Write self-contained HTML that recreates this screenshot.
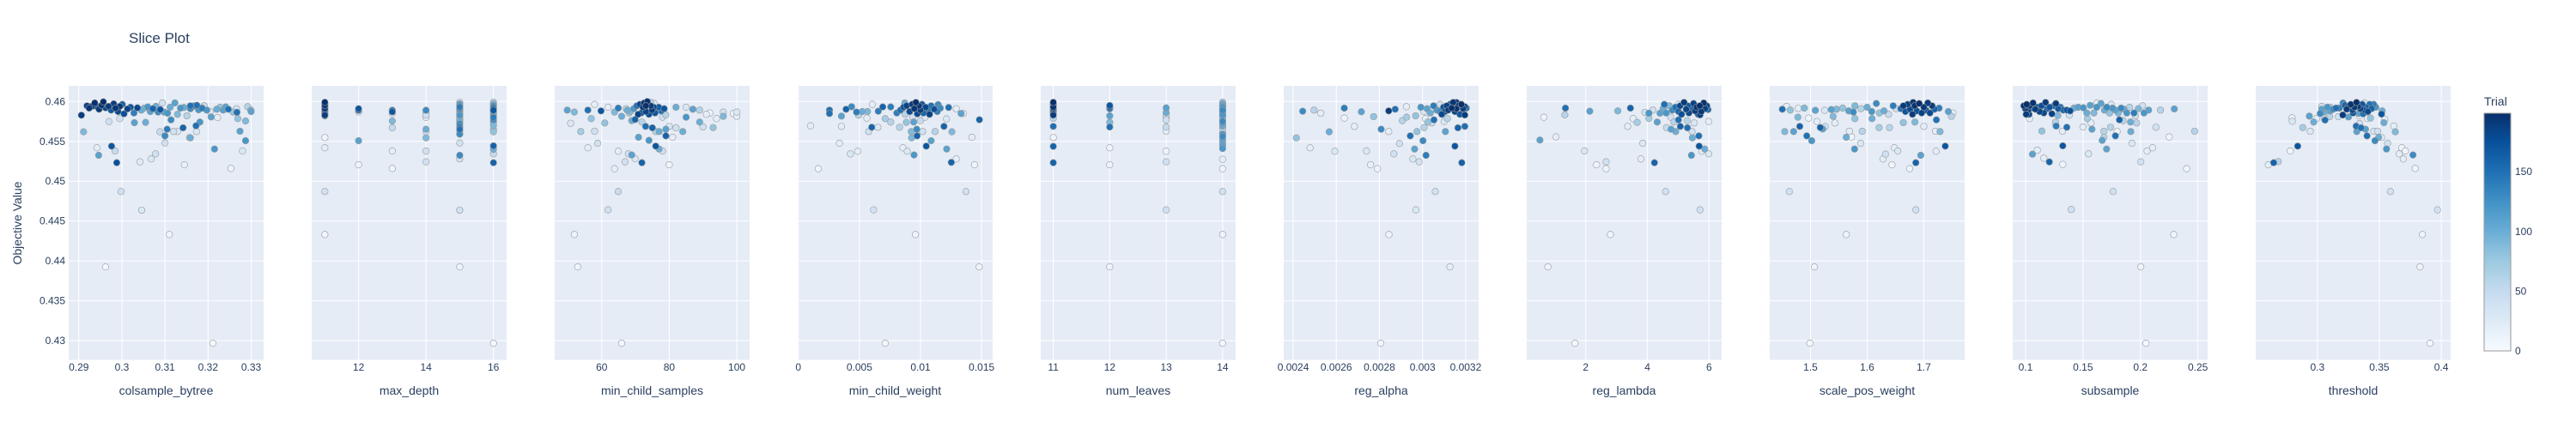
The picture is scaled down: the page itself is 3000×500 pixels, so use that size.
<!DOCTYPE html>
<html><head><meta charset="utf-8"><title>Slice Plot</title>
<style>
html,body{margin:0;padding:0;background:#fff;}
svg{display:block;font-family:"Liberation Sans",Arial,sans-serif;}
</style></head>
<body>
<svg id="chart" width="3000" height="500" viewBox="0 0 3000 500" xmlns="http://www.w3.org/2000/svg">
<defs>
<linearGradient id="blues" x1="0" y1="1" x2="0" y2="0">
<stop offset="0" stop-color="rgb(247,251,255)"/><stop offset="0.125" stop-color="rgb(222,235,247)"/>
<stop offset="0.25" stop-color="rgb(198,219,239)"/><stop offset="0.375" stop-color="rgb(158,202,225)"/>
<stop offset="0.5" stop-color="rgb(107,174,214)"/><stop offset="0.625" stop-color="rgb(66,146,198)"/>
<stop offset="0.75" stop-color="rgb(33,113,181)"/><stop offset="0.875" stop-color="rgb(8,81,156)"/>
<stop offset="1" stop-color="rgb(8,48,107)"/>
</linearGradient>
</defs>
<text x="150" y="50" font-size="17" fill="#2a3f5f">Slice Plot</text>
<text transform="translate(25,260) rotate(-90)" text-anchor="middle" font-size="14" fill="#2a3f5f">Objective Value</text>
<g id="panels"></g>
<g id="colorbar">
<rect x="2893" y="132" width="31" height="277" fill="url(#blues)" stroke="#999" stroke-width="1"/>
<text x="2893" y="123" font-size="14" fill="#2a3f5f">Trial</text>
</g>
</svg>
<script>
const yTicks=[0.43,0.435,0.44,0.445,0.45,0.455,0.46];
const yTickLabels=["0.43","0.435","0.44","0.445","0.45","0.455","0.46"];
const yRange=[0.42758,0.46197];
const trialMax=199;
const cbTicks=[0,50,100,150];
const paramNames=["colsample_bytree","max_depth","min_child_samples","min_child_weight","num_leaves","reg_alpha","reg_lambda","scale_pos_weight","subsample","threshold"];
const xRanges=[[0.28765,0.33289],[10.61,16.39],[46.08,103.8],[-0.00005,0.0159],[10.777,14.23],[0.002356,0.00326],[0.083,6.41],[1.4281,1.772],[0.0888,0.2585],[0.2502,0.4076]];
const xTicks=[[0.29,0.3,0.31,0.32,0.33],[12,14,16],[60,80,100],[0,0.005,0.01,0.015],[11,12,13,14],[0.0024,0.0026,0.0028,0.003,0.0032],[2,4,6],[1.5,1.6,1.7],[0.1,0.15,0.2,0.25],[0.3,0.35,0.4]];
const xTickLabels=[["0.29","0.3","0.31","0.32","0.33"],["12","14","16"],["60","80","100"],["0","0.005","0.01","0.015"],["11","12","13","14"],["0.0024","0.0026","0.0028","0.003","0.0032"],["2","4","6"],["1.5","1.6","1.7"],["0.1","0.15","0.2","0.25"],["0.3","0.35","0.4"]];

const colsample_bytree=[[0.2906,0.45828,190],[0.2911,0.4562,90],[0.2942,0.45419,20],[0.2946,0.45325,110],[0.2976,0.4544,170],[0.2984,0.45379,50],[0.2988,0.45232,175],[0.2998,0.4487,40],[0.3046,0.44637,30],[0.2962,0.43926,5],[0.311,0.44331,10],[0.3211,0.42968,2],[0.3042,0.45243,25],[0.3068,0.45279,30],[0.3078,0.45343,40],[0.3145,0.45207,15],[0.3253,0.4516,10],[0.328,0.45379,30],[0.3215,0.45404,120],[0.3287,0.45508,120],[0.3274,0.45627,110],[0.31,0.45569,130],[0.31,0.4548,40],[0.3142,0.4567,160],[0.3172,0.45695,150],[0.3181,0.45742,120],[0.3173,0.45623,30],[0.3157,0.45548,60],[0.3159,0.45544,100],[0.3088,0.4562,50],[0.3105,0.45652,140],[0.312,0.45623,40],[0.3129,0.45623,30],[0.3114,0.4577,130],[0.3055,0.45738,100],[0.3029,0.45734,110],[0.297,0.45749,40],[0.2995,0.45785,40],[0.3269,0.45785,80],[0.3287,0.45756,90],[0.3222,0.45799,20],[0.3207,0.45806,110],
[0.2919,0.45946,185],[0.2924,0.45917,195],[0.293,0.45939,190],[0.2937,0.45982,198],[0.2942,0.45935,180],[0.2947,0.45903,192],[0.2953,0.45953,195],[0.2957,0.45996,199],[0.2962,0.45921,185],[0.2969,0.45939,190],[0.2975,0.45892,170],[0.2981,0.45971,188],[0.2985,0.45917,195],[0.2991,0.45874,180],[0.2995,0.45939,193],[0.3001,0.45964,160],[0.3005,0.45846,175],[0.3013,0.45907,185],[0.302,0.45928,170],[0.3028,0.45856,140],[0.3036,0.45921,180],[0.3045,0.45892,100],[0.3052,0.45917,90],[0.306,0.45932,120],[0.3066,0.45874,110],[0.3072,0.4591,160],[0.3079,0.45939,100],[0.3084,0.45867,130],[0.3089,0.45899,170],[0.3094,0.45982,40],[0.3098,0.45867,110],[0.3106,0.45853,120],[0.3112,0.45928,100],[0.3123,0.45982,110],[0.3129,0.45839,90],[0.3136,0.45917,120],[0.3144,0.45925,100],[0.3151,0.45821,60],[0.3159,0.4591,130],[0.3167,0.45946,140],[0.3171,0.45939,110],[0.3178,0.45896,120],[0.3186,0.45917,140],[0.3191,0.45946,50],[0.3197,0.45892,120],[0.3205,0.45874,30],[0.322,0.45903,100],[0.3228,0.45928,80],[0.3235,0.45892,110],[0.3241,0.45932,110],[0.3247,0.45903,150],[0.3258,0.45867,80],[0.3267,0.45864,150],[0.3292,0.45935,60],[0.3299,0.45892,90],[0.33,0.45874,110],[0.3266,0.4591,40],[0.3159,0.45946,150],[0.3174,0.45953,150]];

const max_depth=[[11,0.4599,199],[11,0.4597,190],[11,0.4595,195],[11,0.4593,185],[11,0.4591,192],[11,0.4589,180],[11,0.4587,175],[11,0.4585,170],[11,0.4583,188],[11,0.4582,160],[11,0.45548,10],[11,0.45419,20],[11,0.4487,40],[11,0.44331,10],
[12,0.4591,170],[12,0.4589,160],[12,0.4587,30],[12,0.45508,110],[12,0.45207,10],
[13,0.4589,150],[13,0.4587,170],[13,0.4585,20],[13,0.45756,90],[13,0.4567,50],[13,0.45379,20],[13,0.4516,10],
[14,0.4589,130],[14,0.4586,30],[14,0.4583,40],[14,0.458,20],[14,0.45652,100],[14,0.4562,40],[14,0.45544,90],[14,0.45379,40],[14,0.45243,40],
[15,0.4599,40],[15,0.4597,110],[15,0.4595,120],[15,0.4593,140],[15,0.4591,130],[15,0.4589,100],[15,0.4587,90],[15,0.4585,80],[15,0.4583,120],[15,0.4581,70],[15,0.4579,90],[15,0.4577,60],[15,0.4575,100],[15,0.4572,130],[15,0.4568,140],[15,0.4565,150],[15,0.4562,60],[15,0.4559,130],[15,0.4548,40],[15,0.45325,130],[15,0.4528,40],[15,0.44637,40],[15,0.43926,10],
[16,0.4599,60],[16,0.4597,90],[16,0.4595,120],[16,0.4593,140],[16,0.4591,160],[16,0.4589,170],[16,0.4587,110],[16,0.4585,100],[16,0.4583,90],[16,0.458,140],[16,0.4577,130],[16,0.4574,80],[16,0.457,90],[16,0.4565,70],[16,0.4562,80],[16,0.45444,160],[16,0.454,100],[16,0.45343,50],[16,0.45232,160],[16,0.42968,5]];

const min_child_samples=[[49.8,0.45892,110],[51.9,0.45867,90],[50.8,0.45727,30],[53.8,0.45623,70],[55.9,0.45892,150],[56.9,0.45785,80],[57.9,0.45964,20],[57.9,0.45627,40],[55.9,0.45419,20],[58.8,0.45476,40],[59.8,0.45882,170],[60.9,0.45731,80],[61.9,0.45928,20],[63.8,0.45867,90],[64.9,0.45917,140],[65.9,0.45814,100],[64.9,0.45376,20],[63.8,0.45157,20],[66.9,0.45243,40],[67.9,0.45343,40],[68.9,0.45329,110],[69.9,0.45282,30],[71.9,0.45232,160],[68.9,0.4576,100],[69.9,0.45774,160],[70.9,0.45551,110],[71.9,0.45742,60],[73,0.45688,150],[74,0.45512,120],[75,0.4567,160],[76,0.45623,60],[77,0.45623,100],[76,0.4544,170],[77,0.45404,100],[78,0.45379,40],[79,0.45569,160],[79,0.45652,110],[80,0.45688,30],[81,0.45551,20],[82,0.4567,40],[84,0.45623,100],[80,0.45207,10],[64.9,0.4487,50],[61.9,0.4464,40],[51.9,0.44331,10],[52.9,0.43926,10],[65.9,0.42968,5],[85,0.45803,120],[89,0.45742,100],[90,0.45681,40],[93,0.45673,80],[94,0.45785,20],[91,0.45839,20],[92,0.45856,10],[96,0.45867,40],[96,0.45814,90],[99,0.45849,10],[100,0.45867,30],[100,0.45814,20],[89,0.45892,60],[87,0.45903,110],[85,0.45928,30],[82,0.45928,100],[78,0.45803,40],[79,0.45832,60],
[67.6,0.45892,100],[68.5,0.45874,90],[69.5,0.4591,120],[70.4,0.45946,150],[71.3,0.45964,180],[71.7,0.45856,170],[72.2,0.45928,190],[72.6,0.45982,195],[73.1,0.45874,185],[73.5,0.46,198],[74,0.45839,175],[74.5,0.45946,192],[74.9,0.45892,188],[75.4,0.45928,180],[75.8,0.45856,170],[76.3,0.4591,160],[76.9,0.45928,165],[77.6,0.45882,150],[78.5,0.4591,170],[70.8,0.45839,185],[73.1,0.45946,199],[74.5,0.45989,60],[75.6,0.45975,30],[68.1,0.45856,70],[67.2,0.4591,50]];

const min_child_weight=[[0.001,0.45695,20],[0.00163,0.45157,10],[0.00255,0.45892,150],[0.00255,0.45849,150],[0.00336,0.45476,20],[0.00353,0.45817,110],[0.00353,0.45688,20],[0.00391,0.45903,160],[0.00426,0.45343,30],[0.00436,0.45935,130],[0.00476,0.45867,140],[0.00486,0.45376,20],[0.00493,0.45828,60],[0.00523,0.45874,100],[0.00561,0.45792,20],[0.00566,0.45874,90],[0.00576,0.45623,40],[0.00601,0.45677,160],[0.00606,0.45964,20],[0.00616,0.4464,40],[0.00651,0.45677,30],[0.00654,0.45878,140],[0.00691,0.45932,160],[0.00711,0.45785,70],[0.00711,0.42968,5],[0.00756,0.45742,60],[0.00756,0.45932,140],[0.00806,0.45856,140],[0.00829,0.45677,60],[0.00856,0.45419,20],[0.00871,0.45982,100],[0.00891,0.45376,30],[0.00884,0.45738,80],[0.00924,0.45623,90],[0.00927,0.45544,90],[0.00944,0.45742,110],[0.00947,0.45329,120],[0.00959,0.44331,10],[0.00969,0.45652,130],[0.00972,0.45569,160],[0.00999,0.4576,50],[0.01017,0.45623,40],[0.01047,0.4544,170],[0.01087,0.45508,110],[0.01119,0.45623,60],[0.01192,0.45688,160],[0.01212,0.45781,30],[0.01214,0.45404,110],[0.01252,0.45236,160],[0.01257,0.4562,90],[0.01292,0.45279,20],[0.01292,0.4591,20],[0.01332,0.45849,110],[0.0135,0.45849,20],[0.01372,0.4487,40],[0.0142,0.45551,20],[0.01442,0.45207,10],[0.0148,0.43926,10],[0.01482,0.45771,160],[0.0123,0.45925,150],[0.01144,0.45961,130],
[0.00836,0.45892,150],[0.00861,0.45928,170],[0.00886,0.45946,185],[0.00911,0.45874,180],[0.00931,0.45964,190],[0.00949,0.4591,195],[0.00962,0.45989,199],[0.00974,0.45846,180],[0.00987,0.45946,192],[0.00999,0.45892,188],[0.01012,0.45964,170],[0.01024,0.45856,160],[0.01042,0.45928,180],[0.01062,0.45892,150],[0.01074,0.45839,185],[0.01087,0.45946,150],[0.01112,0.45903,175],[0.01137,0.45874,140],[0.01162,0.45917,130],[0.00874,0.45839,60],[0.00936,0.45803,40],[0.01037,0.45803,30]];

const num_leaves=[[11,0.4599,199],[11,0.4597,192],[11,0.4595,185],[11,0.4593,195],[11,0.4591,188],[11,0.4589,180],[11,0.4587,170],[11,0.4585,175],[11,0.4583,190],[11,0.4579,60],[11,0.45688,150],[11,0.45548,10],[11,0.45437,160],[11,0.45232,160],
[12,0.4595,170],[12,0.4593,165],[12,0.4591,160],[12,0.4582,110],[12,0.4574,90],[12,0.4568,150],[12,0.45419,10],[12,0.45207,10],[12,0.43926,10],
[13,0.4592,110],[13,0.4586,100],[13,0.4583,30],[13,0.458,20],[13,0.4577,40],[13,0.4568,50],[13,0.4563,20],[13,0.45376,10],[13,0.45243,40],[13,0.4464,40],
[14,0.4599,80],[14,0.4597,100],[14,0.4595,110],[14,0.4593,120],[14,0.4591,90],[14,0.4589,130],[14,0.4587,100],[14,0.4585,80],[14,0.4583,120],[14,0.4581,90],[14,0.4578,60],[14,0.4575,130],[14,0.4572,110],[14,0.4569,100],[14,0.4566,50],[14,0.4562,40],[14,0.4559,120],[14,0.4556,130],[14,0.4552,110],[14,0.4548,100],[14,0.4545,110],[14,0.4541,120],[14,0.45275,20],[14,0.45157,10],[14,0.4487,40],[14,0.44331,10],[14,0.42968,5]];

const reg_alpha=[[0.002415,0.45544,80],[0.002444,0.45878,130],[0.002497,0.45892,60],[0.002528,0.45853,20],[0.002478,0.45419,20],[0.002567,0.4562,100],[0.002593,0.45376,30],[0.002637,0.45917,140],[0.002637,0.45792,10],[0.002684,0.45688,20],[0.002716,0.45871,110],[0.00274,0.45379,30],[0.002759,0.45207,15],[0.002773,0.4581,80],[0.002791,0.45157,10],[0.002808,0.45652,130],[0.002806,0.42968,5],[0.002843,0.45882,190],[0.002843,0.45623,20],[0.002844,0.44331,10],[0.002867,0.45343,40],[0.002873,0.45903,150],[0.002893,0.45473,40],[0.002906,0.4576,60],[0.002925,0.45935,20],[0.002926,0.45803,70],[0.002943,0.45569,150],[0.002955,0.45279,30],[0.002963,0.45404,110],[0.002968,0.45821,80],[0.002974,0.45623,80],[0.002984,0.45243,40],[0.002992,0.45928,120],[0.003002,0.45508,130],[0.003007,0.45673,60],[0.003016,0.45325,140],[0.003025,0.45742,80],[0.003053,0.4577,150],[0.003059,0.4487,40],[0.002969,0.4464,30],[0.003127,0.43926,20],[0.003106,0.45623,110],[0.00315,0.4544,170],[0.003164,0.4567,160],[0.003182,0.45232,160],[0.003196,0.45688,150],[0.003196,0.45831,190],
[0.003021,0.4591,110],[0.003036,0.45856,100],[0.003051,0.45946,140],[0.003066,0.45892,120],[0.003081,0.45964,40],[0.003081,0.45874,130],[0.003089,0.45839,180],[0.003097,0.45928,170],[0.003104,0.45874,175],[0.003112,0.45946,185],[0.003119,0.45892,190],[0.003127,0.45964,180],[0.003135,0.45917,198],[0.003142,0.45989,195],[0.00315,0.45874,185],[0.003157,0.45989,190],[0.003157,0.4591,196],[0.003165,0.45946,192],[0.003173,0.45839,170],[0.00318,0.45964,199],[0.003188,0.4591,188],[0.003196,0.45935,180],[0.003203,0.45917,150],[0.003005,0.45874,30],[0.003013,0.45785,20],[0.003043,0.45731,40],[0.0031,0.45749,30],[0.003115,0.45785,60]];

const reg_lambda=[[0.511,0.45516,110],[0.64,0.45803,10],[0.77,0.43926,10],[1.03,0.45555,20],[1.32,0.45832,60],[1.34,0.45917,150],[1.65,0.42968,5],[1.96,0.45379,30],[2.13,0.45878,110],[2.35,0.45207,10],[2.66,0.45243,40],[2.66,0.45157,10],[2.8,0.44331,10],[3.04,0.45882,90],[3.36,0.45688,20],[3.45,0.45917,160],[3.54,0.45785,20],[3.67,0.45738,70],[3.79,0.45279,20],[3.85,0.45476,30],[3.92,0.45864,40],[4.05,0.45853,120],[4.05,0.45788,70],[4.18,0.45892,40],[4.23,0.45232,160],[4.32,0.45742,110],[4.41,0.45853,110],[4.55,0.45964,150],[4.59,0.4487,40],[4.62,0.45673,50],[4.77,0.45652,110],[4.86,0.45742,60],[4.92,0.45623,100],[5.01,0.4577,150],[5.07,0.45688,160],[5.3,0.4567,150],[5.45,0.45623,40],[5.46,0.45544,100],[5.43,0.45325,120],[5.67,0.45569,150],[5.68,0.4544,170],[5.71,0.4464,40],[5.86,0.45404,100],[5.77,0.45376,20],[5.99,0.45343,30],[5.99,0.45749,20],[5.52,0.45731,30],[5.29,0.4576,60],
[4.51,0.4591,100],[4.61,0.45856,120],[4.71,0.45946,90],[4.81,0.45892,130],[4.91,0.45928,150],[5.01,0.45874,160],[5.06,0.45946,180],[5.11,0.45839,175],[5.19,0.45989,190],[5.26,0.45903,185],[5.31,0.45946,170],[5.35,0.45856,180],[5.4,0.45917,160],[5.5,0.45975,185],[5.55,0.45882,190],[5.6,0.45928,195],[5.65,0.45839,170],[5.7,0.45946,199],[5.75,0.45874,190],[5.83,0.45982,196],[5.87,0.4591,188],[5.93,0.45946,180],[5.97,0.45899,150],[5.71,0.45832,185],[4.76,0.45803,40],[5.01,0.45964,20]];

const scale_pos_weight=[[1.4503,0.45903,150],[1.4546,0.45623,90],[1.4578,0.45939,20],[1.4627,0.4487,40],[1.4643,0.45892,80],[1.4703,0.45623,110],[1.4778,0.45803,90],[1.4784,0.45914,20],[1.4811,0.45688,160],[1.4892,0.45917,90],[1.4935,0.45569,150],[1.4968,0.45792,10],[1.4989,0.42968,5],[1.5022,0.45508,120],[1.507,0.43926,10],[1.5086,0.45889,110],[1.5114,0.45749,20],[1.5173,0.45673,160],[1.5216,0.45655,110],[1.5249,0.45889,30],[1.5259,0.45684,40],[1.5368,0.45899,110],[1.54,0.45814,90],[1.5432,0.45731,20],[1.5632,0.45551,100],[1.5632,0.44331,10],[1.5686,0.45627,20],[1.5724,0.45555,10],[1.5757,0.45867,130],[1.5778,0.45404,120],[1.5784,0.45785,80],[1.5886,0.45476,30],[1.5913,0.45627,60],[1.6086,0.45785,100],[1.6211,0.45673,70],[1.6281,0.45279,20],[1.6324,0.4534,40],[1.6394,0.45673,60],[1.6438,0.45207,10],[1.6481,0.45419,20],[1.654,0.45379,30],[1.6638,0.45735,80],[1.6751,0.45157,10],[1.6843,0.45742,90],[1.6859,0.45232,160],[1.6859,0.4464,40],[1.6946,0.45325,110],[1.7,0.45688,20],[1.7205,0.45627,20],[1.7216,0.45376,20],[1.7222,0.4577,150],[1.7286,0.45623,90],[1.7378,0.4544,170],[1.7432,0.45874,110],[1.7486,0.45814,60],[1.7513,0.45856,20],
[1.5459,0.45903,90],[1.5568,0.45917,80],[1.5676,0.45882,110],[1.5784,0.45946,90],[1.5892,0.4591,60],[1.6,0.45928,100],[1.6081,0.45874,120],[1.6162,0.45975,130],[1.6216,0.45856,80],[1.6297,0.45882,100],[1.6378,0.45839,50],[1.6459,0.45946,140],[1.6513,0.4591,40],
[1.6594,0.4591,150],[1.6638,0.45946,190],[1.6676,0.45874,170],[1.6713,0.45964,185],[1.6757,0.45903,180],[1.68,0.45839,190],[1.6838,0.45946,196],[1.6876,0.45882,175],[1.6919,0.45975,199],[1.6962,0.45856,185],[1.7,0.45928,192],[1.7038,0.45892,170],[1.707,0.45982,190],[1.7108,0.45856,180],[1.7146,0.45946,188],[1.7189,0.45903,160],[1.727,0.45917,140],[1.6811,0.45989,194]];

const subsample=[[0.1035,0.45785,20],[0.103,0.45839,180],[0.106,0.45339,110],[0.1102,0.45389,20],[0.1142,0.45629,80],[0.1159,0.45289,20],[0.1207,0.45242,160],[0.1261,0.45741,60],[0.1264,0.45699,40],[0.1266,0.45692,140],[0.1281,0.45824,90],[0.1321,0.45627,20],[0.1324,0.45444,170],[0.1324,0.45211,10],[0.1359,0.45677,150],[0.1398,0.44645,40],[0.1381,0.45828,40],[0.15,0.45681,20],[0.1538,0.45785,70],[0.1548,0.45343,30],[0.1578,0.45652,110],[0.157,0.45731,20],[0.1667,0.45512,110],[0.1682,0.45551,60],[0.1682,0.45627,60],[0.1705,0.45404,110],[0.174,0.45677,60],[0.1762,0.4487,40],[0.1782,0.45569,150],[0.1797,0.45623,10],[0.1817,0.4577,160],[0.185,0.4576,60],[0.1914,0.45742,100],[0.1916,0.45623,100],[0.1926,0.45476,30],[0.1956,0.45821,40],[0.1968,0.45731,60],[0.2003,0.45243,40],[0.2003,0.43926,10],[0.2048,0.42968,5],[0.2058,0.45379,20],[0.2071,0.45892,110],[0.2106,0.45419,20],[0.2135,0.45677,40],[0.2175,0.45892,60],[0.225,0.45555,10],[0.229,0.44331,10],[0.2295,0.45907,110],[0.2402,0.45157,10],[0.2472,0.45627,60],
[0.0985,0.45946,195],[0.0998,0.4591,190],[0.101,0.45964,199],[0.1022,0.45892,185],[0.1035,0.45946,192],[0.1047,0.45917,180],[0.1065,0.45982,196],[0.1085,0.45903,188],[0.1105,0.45928,170],[0.1122,0.45874,185],[0.1139,0.45946,175],[0.1159,0.45856,180],[0.1174,0.45989,190],[0.1189,0.4591,160],[0.1209,0.45928,170],[0.1229,0.45846,185],[0.1247,0.45946,160],[0.1264,0.45975,190],[0.1284,0.4591,165],[0.1304,0.45928,150],[0.1329,0.45892,160],[0.1359,0.45892,170],[0.1388,0.45882,175],[0.1005,0.45839,190],
[0.1421,0.45917,100],[0.1458,0.45928,110],[0.1503,0.45921,120],[0.1533,0.45856,100],[0.1563,0.45953,110],[0.1595,0.45856,90],[0.162,0.45928,120],[0.1657,0.45975,110],[0.1687,0.45892,100],[0.1707,0.45928,130],[0.1732,0.45856,80],[0.1745,0.45964,30],[0.1757,0.45917,120],[0.1782,0.45892,110],[0.1807,0.45856,90],[0.1832,0.45917,130],[0.1857,0.45903,100],[0.1881,0.45856,120],[0.1906,0.45928,60],[0.1944,0.45856,140],[0.1981,0.4591,90],[0.2018,0.45946,40],[0.2031,0.45856,120],[0.162,0.45982,20]];

const threshold=[[0.2604,0.45207,20],[0.2647,0.45232,160],[0.2684,0.45246,60],[0.2781,0.45379,10],[0.2795,0.45795,10],[0.2797,0.45752,30],[0.2841,0.4544,170],[0.2882,0.45673,70],[0.2935,0.45817,110],[0.2942,0.45627,30],[0.297,0.45742,100],[0.2993,0.45785,20],[0.3023,0.45849,130],[0.3062,0.45767,150],[0.3055,0.45785,40],[0.3313,0.45691,150],[0.3318,0.45623,110],[0.3341,0.45724,40],[0.3353,0.4567,150],[0.3389,0.45652,110],[0.3401,0.45569,150],[0.3456,0.45627,30],[0.3465,0.45508,130],[0.3486,0.45627,40],[0.3495,0.45551,100],[0.3518,0.45548,20],[0.3537,0.45734,100],[0.3544,0.45774,20],[0.3558,0.45404,120],[0.3567,0.45476,40],[0.359,0.4487,40],[0.3617,0.45691,20],[0.3629,0.4562,90],[0.3661,0.45343,20],[0.3682,0.45419,10],[0.3694,0.45279,20],[0.371,0.45379,10],[0.3772,0.45329,130],[0.379,0.4516,10],[0.3829,0.43926,10],[0.3848,0.44331,10],[0.391,0.42968,5],[0.397,0.4464,40],[0.3403,0.45788,20],[0.3339,0.4582,10],[0.3429,0.45792,80],[0.3336,0.45849,110],[0.3251,0.45806,110],[0.317,0.4581,40],[0.3099,0.4581,60],[0.3523,0.45882,100],[0.3205,0.45831,190],[0.3518,0.45842,170],
[0.3035,0.45903,110],[0.3058,0.45874,100],[0.3081,0.45928,120],[0.3104,0.45882,110],[0.3127,0.45903,130],[0.315,0.45917,150],[0.3177,0.45917,140],[0.3207,0.45982,130],[0.3223,0.45953,160],[0.3237,0.45903,190],[0.3253,0.45939,185],[0.327,0.45964,196],[0.3283,0.45892,180],[0.33,0.45928,192],[0.3316,0.45989,199],[0.3329,0.45939,190],[0.3346,0.4591,185],[0.3362,0.45964,170],[0.3376,0.45892,175],[0.3392,0.45928,160],[0.3408,0.45874,180],[0.3422,0.45964,150],[0.3438,0.4591,160],[0.3454,0.45964,140],[0.3472,0.45928,120],[0.3288,0.45856,170],[0.3369,0.45846,150],[0.3035,0.45939,40],[0.338,0.45982,30],[0.3104,0.45928,60]];

const panelData=[colsample_bytree,max_depth,min_child_samples,min_child_weight,num_leaves,reg_alpha,reg_lambda,scale_pos_weight,subsample,threshold];

const NS="http://www.w3.org/2000/svg";
const PLOT_TOP=100,PLOT_BOTTOM=419.5,PANEL_W=227,PANEL_STEP=283,PANEL_X0=80;
const blues=[[0,[247,251,255]],[0.125,[222,235,247]],[0.25,[198,219,239]],[0.375,[158,202,225]],[0.5,[107,174,214]],[0.625,[66,146,198]],[0.75,[33,113,181]],[0.875,[8,81,156]],[1,[8,48,107]]];
function colorFor(t){
  let f=Math.max(0,Math.min(1,t/trialMax));
  for(let i=1;i<blues.length;i++){
    if(f<=blues[i][0]){
      const a=blues[i-1],b=blues[i];const k=(f-a[0])/(b[0]-a[0]);
      const c=a[1].map((v,j)=>Math.round(v+(b[1][j]-v)*k));
      return `rgb(${c[0]},${c[1]},${c[2]})`;
    }
  }
  return "rgb(8,48,107)";
}
function yScale(v){return PLOT_BOTTOM-(v-yRange[0])/(yRange[1]-yRange[0])*(PLOT_BOTTOM-PLOT_TOP);}
function mk(tag,attrs,parent){const e=document.createElementNS(NS,tag);for(const k in attrs)e.setAttribute(k,attrs[k]);parent.appendChild(e);return e;}

const root=document.getElementById("panels");
paramNames.forEach((name,i)=>{
  const left=PANEL_X0+PANEL_STEP*i;
  const xr=xRanges[i];
  const xScale=v=>left+(v-xr[0])/(xr[1]-xr[0])*PANEL_W;
  const g=mk("g",{},root);
  
  
  const bg=mk("rect",{x:left,y:PLOT_TOP,width:PANEL_W,height:PLOT_BOTTOM-PLOT_TOP,fill:"#E5ECF6"},g);
  
  
  yTicks.forEach(v=>{
    const gl=mk("line",{x1:left,x2:left+PANEL_W,y1:yScale(v),y2:yScale(v),stroke:"#fff","stroke-width":1},g);
    
    
  });
  xTicks[i].forEach((v,j)=>{
    const x=xScale(v);
    const gl=mk("line",{x1:x,x2:x,y1:PLOT_TOP,y2:PLOT_BOTTOM,stroke:"#fff","stroke-width":1},g);
    
    
    const tl=mk("text",{x:x,y:432,"text-anchor":"middle","font-size":12,fill:"#2a3f5f"},g);
    tl.textContent=xTickLabels[i][j];
    
    
  });
  if(i===0){
    yTicks.forEach((v,j)=>{
      const tl=mk("text",{x:76,y:yScale(v)+4,"text-anchor":"end","font-size":12,fill:"#2a3f5f"},g);
      tl.textContent=yTickLabels[j];
      
      
    });
  }
  const at=mk("text",{x:left+PANEL_W/2,y:460,"text-anchor":"middle","font-size":14,fill:"#2a3f5f"},g);
  at.textContent=name;
  
  
  const pts=panelData[i].slice().sort((a,b)=>a[2]-b[2]);
  pts.forEach(p=>{
    const c=mk("circle",{cx:xScale(p[0]),cy:yScale(p[1]),r:3.8,fill:colorFor(p[2]),stroke:"#999","stroke-width":0.6},g);
    
    
  });
});

const cb=document.getElementById("colorbar");
cbTicks.forEach(v=>{
  const y=409-(v/trialMax)*277;
  const t=mk("text",{x:2929,y:y+4,"font-size":12,fill:"#2a3f5f"},cb);
  t.textContent=String(v);
  
  
});
</script>
</body></html>
